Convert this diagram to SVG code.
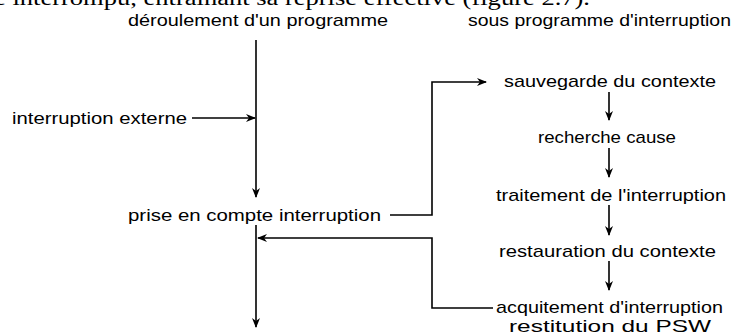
<svg xmlns="http://www.w3.org/2000/svg" width="742" height="335" viewBox="0 0 742 335">
<defs>
<style>
.t{font-family:"Liberation Sans",Arial,sans-serif;font-size:17px;fill:#000}
.top{font-family:"Liberation Serif","Times New Roman",serif;font-size:20px;fill:#000}
.c{fill:none;stroke:#000;stroke-width:1.6}
</style>
<marker id="ah" viewBox="0 0 10 10" refX="9" refY="5" markerWidth="10" markerHeight="10" markerUnits="userSpaceOnUse" orient="auto">
<path d="M0,1 L10,5 L0,9 L3,5 z" fill="#000"/>
</marker>
</defs>
<rect width="742" height="335" fill="#fff"/>
<text class="top" x="-6" y="5" textLength="596" lengthAdjust="spacingAndGlyphs">e interrompu, entraînant sa reprise effective (figure 2.7).</text>
<g id="hdr-prog"><text class="t" x="128" y="26" textLength="260" lengthAdjust="spacingAndGlyphs">déroulement d'un programme</text></g>
<g id="hdr-sous"><text class="t" x="468" y="26" textLength="263" lengthAdjust="spacingAndGlyphs">sous programme d'interruption</text></g>
<g id="n-ext"><text class="t" x="12" y="124" textLength="175" lengthAdjust="spacingAndGlyphs">interruption externe</text></g>
<g id="n-prise"><text class="t" x="128" y="221" textLength="253" lengthAdjust="spacingAndGlyphs">prise en compte interruption</text></g>
<g id="n-sauv"><text class="t" x="504" y="87" textLength="212" lengthAdjust="spacingAndGlyphs">sauvegarde du contexte</text></g>
<g id="n-rech"><text class="t" x="538" y="143" textLength="138" lengthAdjust="spacingAndGlyphs">recherche cause</text></g>
<g id="n-trait"><text class="t" x="496" y="201" textLength="230" lengthAdjust="spacingAndGlyphs">traitement de l'interruption</text></g>
<g id="n-rest"><text class="t" x="499" y="257" textLength="217" lengthAdjust="spacingAndGlyphs">restauration du contexte</text></g>
<g id="n-acq"><text class="t" x="496" y="313" textLength="227" lengthAdjust="spacingAndGlyphs">acquitement d'interruption</text><text class="t" x="509" y="332" textLength="202" lengthAdjust="spacingAndGlyphs">restitution du PSW</text></g>
<g id="connectors">
<path class="c" d="M256,40 V197" marker-end="url(#ah)"/>
<path class="c" d="M192,118 H255" marker-end="url(#ah)"/>
<path class="c" d="M256,225 V327" marker-end="url(#ah)"/>
<path class="c" d="M390,215 H432 V82 H486" marker-end="url(#ah)"/>
<path class="c" d="M493,308 H432 V238 H258" marker-end="url(#ah)"/>
<path class="c" d="M609,92 V120" marker-end="url(#ah)"/>
<path class="c" d="M609,148 V177" marker-end="url(#ah)"/>
<path class="c" d="M609,205 V235" marker-end="url(#ah)"/>
<path class="c" d="M609,261 V290" marker-end="url(#ah)"/>
</g>
</svg>
